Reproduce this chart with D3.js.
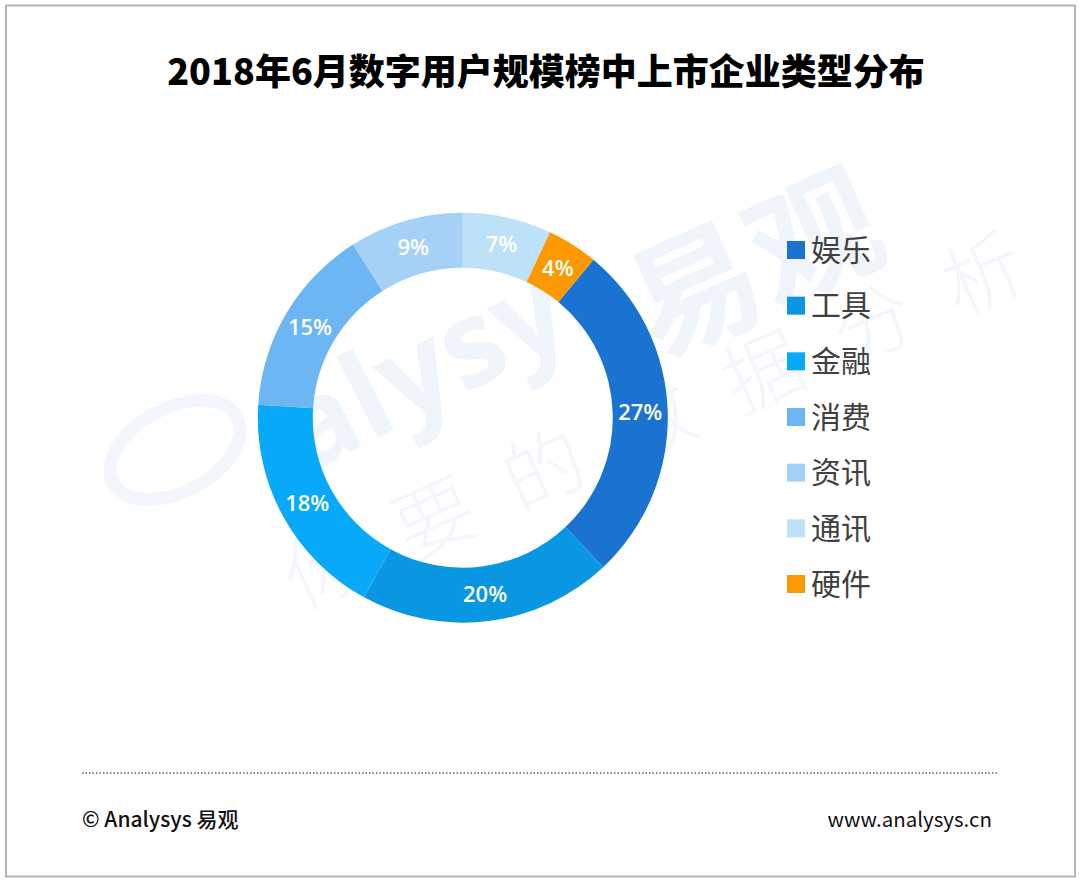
<!DOCTYPE html>
<html>
<head>
<meta charset="utf-8">
<script src="https://cdn.jsdelivr.net/npm/d3@7"></script>
<style>
html,body{margin:0;padding:0;background:#fff;}
svg{display:block;}
</style>
</head>
<body>
<svg id="chart" width="1080" height="882"></svg>
<script>
const title = "2018年6月数字用户规模榜中上市企业类型分布";
const categories = ["娱乐","工具","金融","消费","资讯","通讯","硬件"];
const values = [27,20,18,15,9,7,4];
const colors = ["#1a73d1","#0897e0","#08a9f9","#6cb7f3","#a5d1f7","#bde1f8","#fe9800"];
const footerLeft = "© Analysys 易观";
const footerRight = "www.analysys.cn";

const svg = d3.select("#chart");
const CJK = "'Noto Sans CJK SC','Noto Sans',sans-serif";

// frame
svg.append("rect").attr("x",6).attr("y",5.5).attr("width",1069).attr("height",871)
  .attr("fill","none").attr("stroke","#b3b3b3").attr("stroke-width",2);

// watermark
const wm = svg.append("g").attr("pointer-events","none");
wm.append("ellipse").attr("cx",175).attr("cy",450).attr("rx",70).attr("ry",42)
  .attr("transform","rotate(-28,175,450)")
  .attr("fill","none").attr("stroke","#f3f7fd").attr("stroke-width",13);
wm.append("text").attr("transform","translate(305,475) rotate(-27)")
  .attr("font-family","'Open Sans',sans-serif").attr("font-weight",700).attr("font-size",120)
  .attr("fill","#f0f5fc").text("alysys");
wm.append("text").attr("transform","translate(655,360) rotate(-24)")
  .attr("font-family",CJK).attr("font-weight",700).attr("font-size",130)
  .attr("fill","#f0f5fc").text("易观");
wm.append("text").attr("transform","translate(300,610) rotate(-24)")
  .attr("font-family",CJK).attr("font-weight",300).attr("font-size",80)
  .attr("fill","#f3f7fc").attr("letter-spacing",40).text("你要的数据分析");

// title
svg.append("text").attr("x",546).attr("y",85).attr("text-anchor","middle")
  .attr("font-family",CJK).attr("font-weight",900).attr("font-size",36)
  .attr("fill","#000").text(title);

// donut
const cx = 462.8, cy = 417.7, rOuter = 205, rInner = 150;
const startDeg = 39.6;
const pie = d3.pie().sort(null).value(d => d)
  .startAngle(startDeg*Math.PI/180).endAngle(startDeg*Math.PI/180 + 2*Math.PI);
const arcs = pie(values);
const arc = d3.arc().innerRadius(rInner).outerRadius(rOuter);
const labelArc = d3.arc().innerRadius((rInner+rOuter)/2).outerRadius((rInner+rOuter)/2);
const color = d3.scaleOrdinal().domain(categories).range(colors);

const g = svg.append("g").attr("transform",`translate(${cx},${cy})`);
g.selectAll("path.slice").data(arcs).join("path").attr("class","slice")
  .attr("d",arc).attr("fill",(d,i)=>color(categories[i]));
g.selectAll("text.lbl").data(arcs).join("text").attr("class","lbl")
  .attr("transform",d=>`translate(${labelArc.centroid(d)})`)
  .attr("text-anchor","middle").attr("dy","0.36em")
  .attr("font-family","'Open Sans','Noto Sans',sans-serif").attr("font-weight",600).attr("font-size",22)
  .attr("fill","#fff").text(d=>d.value+"%");

// legend
const legY = d3.scalePoint().domain(categories).range([250,584]);
const leg = svg.append("g");
const items = leg.selectAll("g").data(categories).join("g")
  .attr("transform",d=>`translate(787,${legY(d)})`);
items.append("rect").attr("x",0).attr("y",-9).attr("width",18).attr("height",18)
  .attr("fill",d=>color(d));
items.append("text").attr("x",24).attr("y",0).attr("dy","0.36em")
  .attr("font-family",CJK).attr("font-size",30).attr("fill","#404040").text(d=>d);

// footer
svg.append("line").attr("x1",82).attr("x2",997).attr("y1",773).attr("y2",773)
  .attr("stroke","#8c8c8c").attr("stroke-width",2).attr("stroke-dasharray","1.5,2");
svg.append("text").attr("x",82).attr("y",827)
  .attr("font-family",CJK).attr("font-weight",500).attr("font-size",21).attr("fill","#111").text(footerLeft);
svg.append("text").attr("x",992).attr("y",827).attr("text-anchor","end")
  .attr("font-family",CJK).attr("font-weight",400).attr("font-size",20.5).attr("fill","#111").text(footerRight);
</script>
</body>
</html>
